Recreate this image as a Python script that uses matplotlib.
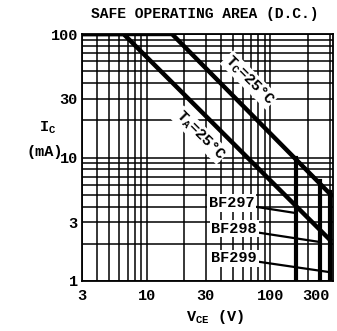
import matplotlib
matplotlib.use("Agg")
import matplotlib.pyplot as plt
from matplotlib.ticker import FixedLocator, NullFormatter, LogLocator

plt.rcParams['font.family'] = ['Liberation Mono', 'DejaVu Sans']
plt.rcParams['font.weight'] = 'bold'
plt.rcParams['mathtext.fontset'] = 'custom'
plt.rcParams['mathtext.rm'] = 'Liberation Mono:bold'
plt.rcParams['mathtext.bf'] = 'Liberation Mono:bold'
plt.rcParams['mathtext.it'] = 'Liberation Mono:bold'

# Data
tc_v = [3, 16, 320]
tc_i = [100, 100, 4.8]
ta_v = [3, 6.5, 310]
ta_i = [100, 100, 2.1]
bf_names = ["BF297", "BF298", "BF299"]
bf_vceo = [160, 250, 300]
bf_itop = [10.0, 6.4, 5.3]
bf_point_i = [3.55, 2.07, 1.18]
bf_text_v = [74, 78, 78]
bf_text_i = [4.28, 2.64, 1.53]
x_ticks = [3, 10, 30, 100, 300]
x_ticklabels = ["3", "10", "30", "100", "300"]
y_ticks = [1, 3, 10, 30, 100]
y_ticklabels = ["1", "3", "10", "30", "100"]

fig = plt.figure(figsize=(3.37, 3.31), dpi=100)
ax = fig.add_axes([82/337, 1-281/331, (333-82)/337, (281-34)/331])
ax.set_xscale('log')
ax.set_yscale('log')
ax.set_xlim(3, 320)
ax.set_ylim(1, 100)

ax.xaxis.set_major_locator(FixedLocator(x_ticks))
ax.set_xticklabels(x_ticklabels)
ax.yaxis.set_major_locator(FixedLocator(y_ticks))
ax.set_yticklabels(y_ticklabels)
ax.xaxis.set_minor_locator(LogLocator(base=10, subs=range(1, 10)))
ax.yaxis.set_minor_locator(LogLocator(base=10, subs=range(1, 10)))
ax.xaxis.set_minor_formatter(NullFormatter())
ax.yaxis.set_minor_formatter(NullFormatter())
ax.tick_params(which='both', length=0, labelsize=11)
ax.tick_params(axis='x', pad=6)
ax.tick_params(axis='y', pad=3)
for lab in ax.get_xticklabels() + ax.get_yticklabels():
    lab.set_fontweight('bold')
xl = ax.get_xticklabels()
xl[-1].set_horizontalalignment('right')
xl[-1].set_x(0)
ax.grid(which='both', color='black', lw=1.1)
for s in ax.spines.values():
    s.set_linewidth(1.3)

ax.plot(tc_v, tc_i, color='black', lw=3.2, solid_capstyle='butt', zorder=3)
ax.plot(ta_v, ta_i, color='black', lw=3.2, solid_capstyle='butt', zorder=3)
for v, it in zip(bf_vceo, bf_itop):
    ax.plot([v, v], [it, 1], color='black', lw=3.0, zorder=3)

for name, v, pi, tv, ti in zip(bf_names, bf_vceo, bf_point_i, bf_text_v, bf_text_i):
    ax.annotate(name, xy=(v, pi), xytext=(tv, ti), ha='right', va='center',
                fontsize=11, fontweight='bold',
                bbox=dict(boxstyle='square,pad=0.1', fc='white', ec='none'),
                arrowprops=dict(arrowstyle='-', color='black', lw=1.6,
                                shrinkA=0, shrinkB=0), zorder=5)

ax.text(67.5, 42.4, r"T$_\mathregular{C}$=25$\degree$C", rotation=-45, ha='center',
        va='center', fontsize=11, fontweight='bold',
        bbox=dict(boxstyle='square,pad=0.05', fc='white', ec='none'), zorder=4)
ax.text(27, 15.2, r"T$_\mathregular{A}$=25$\degree$C", rotation=-45, ha='center',
        va='center', fontsize=11, fontweight='bold',
        bbox=dict(boxstyle='square,pad=0.05', fc='white', ec='none'), zorder=4)

fig.text(205/337, 1-14/331, "SAFE OPERATING AREA (D.C.)", ha='center', va='center',
         fontsize=10.5, fontweight='bold')
fig.text(48/337, 1-128/331, r"I$_\mathregular{C}$", ha='center', va='center',
         fontsize=11, fontweight='bold')
fig.text(45/337, 1-152/331, "(mA)", ha='center', va='center',
         fontsize=11, fontweight='bold')
fig.text(215/337, 1-317/331, r"V$_\mathregular{CE}$ (V)", ha='center', va='center',
         fontsize=11, fontweight='bold')

fig.savefig("out.png", dpi=100)
